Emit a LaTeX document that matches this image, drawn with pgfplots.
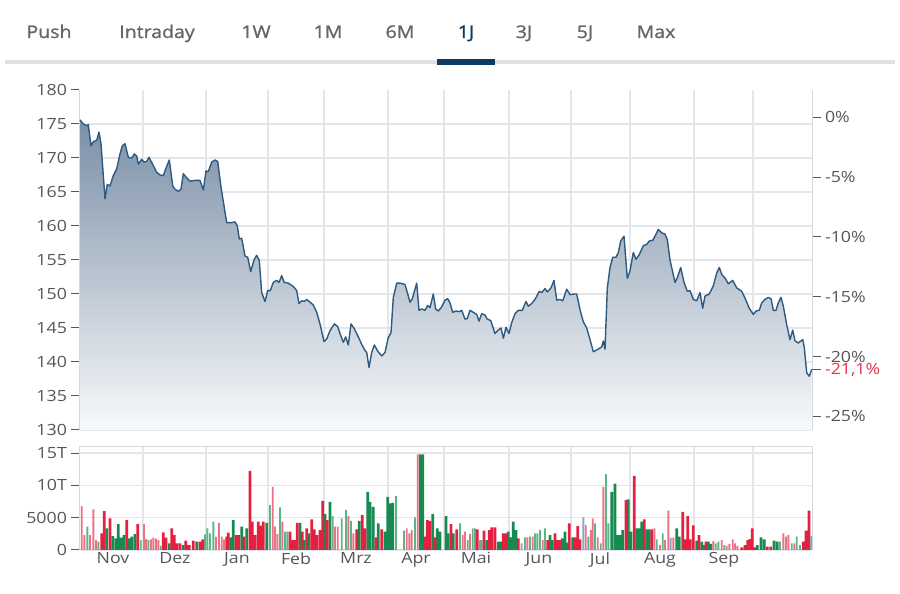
\documentclass[border=0pt]{standalone}
\usepackage{pgfplots}
\pgfplotsset{compat=1.18}
\usepackage{pgfplotstable}
\usepackage{fontspec}
\setmainfont{Open Sans}
\newfontfamily\tabfont{Open Sans}[FakeBold=1.2]
\definecolor{tabgray}{HTML}{666666}
\definecolor{tabblue}{HTML}{0C3A63}
\definecolor{tabline}{HTML}{DDE1E6}
\definecolor{gridgray}{HTML}{E3E6EA}
\definecolor{axisgray}{HTML}{D3D8DE}
\definecolor{tickgray}{HTML}{555555}
\definecolor{labgray}{HTML}{555555}
\definecolor{redlab}{HTML}{E8304A}
\definecolor{linecol}{HTML}{2D5A80}
\definecolor{filltop}{HTML}{7A8FA6}
\definecolor{fillbot}{HTML}{F8F9FB}
\definecolor{gD}{HTML}{168A50}
\definecolor{gL}{HTML}{5DB587}
\definecolor{rD}{HTML}{E3213F}
\definecolor{rL}{HTML}{EC7386}
\definecolor{bG}{HTML}{8FA6BF}
\newcommand{\tickfont}{\fontsize{15.5}{18}\selectfont}
\newcommand{\redlabel}{-21{,}1\%}

\pgfplotstableread{
x y
80 175.6
83.3 175.0
86.7 174.75
88.3 174.9
91 171.8
93.3 172.4
96.7 172.6
99 173.8
101 172.1
105 164.0
107.3 166.1
110 165.9
113.3 167.4
116.7 168.4
120 170.6
122.3 171.8
125 172.1
128.3 170.1
131.7 170.0
134.3 170.6
136.7 170.3
138.3 169.1
141.7 169.8
144 169.4
146.7 169.5
149 170.1
153.3 168.9
156.7 167.9
160 167.5
163.3 167.4
165.7 168.4
169.3 169.7
172.7 165.9
175 165.4
178.3 165.1
181 165.4
183.3 167.7
186 167.2
190 166.6
195 166.7
200 166.7
203.3 165.3
206 168.1
208.3 168.0
211.7 169.4
215 169.7
217.7 169.5
221 165.7
224.3 162.7
226.7 160.5
231.7 160.5
235 160.6
237.3 160.0
239.3 158.1
241.7 158.2
245 155.6
247.7 155.4
250.7 153.3
254 155.0
256.7 155.7
259.3 154.9
261.7 150.2
265 148.9
267.7 150.5
270.3 150.5
273.3 151.7
276.7 152.0
279 151.7
281.7 152.7
284.3 151.7
288.3 151.6
293.3 151.1
296.7 150.5
299 148.6
301.7 149.0
304.3 148.9
306.7 149.2
310 148.8
313.3 148.4
316.7 147.3
320 145.6
324 143.0
326.7 143.4
330 144.6
334.3 145.6
337.7 145.2
340.7 143.9
343.3 142.9
345.7 143.7
348.3 142.5
351 145.6
354.3 144.9
358.3 143.7
361.7 142.6
365 141.7
366.7 141.4
369 139.2
371.7 141.4
374.3 142.5
377.7 141.6
381.7 140.9
385 141.4
388.3 143.6
391 144.3
393.3 149.5
396.7 151.6
400 151.6
405 151.4
407.7 150.0
410 148.8
412.3 149.3
416.7 151.6
419 147.6
421.7 147.8
425 147.6
427.7 148.3
430 148.0
433.3 150.0
435.7 147.8
438.3 147.5
441.7 148.1
445 149.1
447.7 149.3
450 148.7
452.7 147.3
456 147.5
459.3 147.4
461.7 147.6
465 146.3
467.3 146.4
470 147.6
473.3 147.3
476.7 147.0
479 146.0
481.7 147.1
485 146.9
487.3 146.3
490.7 146.1
495 144.2
498.3 144.7
501 145.0
503.3 143.5
506 145.1
509 144.2
511.7 145.8
515 147.1
518.3 147.6
522.3 147.6
526 148.9
528.3 148.2
531.7 148.6
535 149.2
539.3 150.4
541.7 150.2
545 150.8
547.3 150.3
551 150.9
554 152.0
556.7 149.1
560 149.2
562.7 149.0
566.7 150.7
570 149.9
574 150.0
576.7 150.0
580 147.7
583.3 145.9
586.7 145.0
590 143.3
593.3 141.5
598.3 141.9
601.7 142.2
603.3 143.1
605 141.9
607.3 150.9
610 153.9
612.7 155.4
616 155.4
618.3 156.1
620.7 157.8
624 158.5
627.3 152.3
630 153.4
633.3 156.1
636 155.1
639.3 155.8
643.3 157.1
646.7 157.3
649.3 157.8
652.7 157.9
655 158.5
658.3 159.5
661.7 159.0
665 158.8
667.3 158.0
670 155.0
675 151.7
677.3 152.4
680.7 153.9
684 151.7
687.3 150.4
690 150.5
693.3 149.2
696.7 149.0
700 150.2
702.7 147.9
705 149.7
709.3 150.0
713.3 151.2
716.7 153.1
719.3 153.9
721.7 152.9
725.7 152.2
728.3 151.5
732.7 152.0
736.7 150.9
741.7 150.4
745 149.4
749.3 147.9
753.3 147.0
756 147.5
759.3 147.6
761.7 148.7
765 149.2
768.3 149.5
771 149.3
773.3 147.6
776 147.6
778.3 148.7
781 149.5
783.3 148.2
786.7 145.5
790 143.3
792.7 144.7
795 143.1
798.3 142.8
802.7 143.3
804.3 142.1
806.7 138.4
809.3 137.9
811.7 138.9
}\price

\pgfplotstableread{
x v
101.7 2570
104.3 6000
110 4880
126.7 4630
137.7 4000
163.3 2720
166 1900
171.7 3340
174.3 2310
176.7 1030
180 1030
185.7 1440
189.3 770
193.3 1440
200 1290
202.7 1640
226.7 2060
228.3 2670
236 2310
238.7 2310
244 2060
250 12230
252.3 4370
255 2310
258.3 4370
261 3750
263.3 4370
290 2830
292.7 1540
295 1540
297.3 4200
302.3 2830
306.7 3340
311.7 4730
314.3 3190
316.7 2310
320 3080
322.7 7610
327.3 4630
356.7 3190
362.3 5400
365 3340
376 1950
381.7 3190
425 2060
427.3 4630
430 4520
435 1950
451 4000
456.7 3190
477.3 3190
484 2980
489.3 3080
491.7 3500
495 3500
503.3 2570
505.7 2570
518.3 1800
547.7 1540
555 2570
557.3 1540
560 1540
569.3 4110
575 1950
577.7 3700
580 1640
626 7710
634.3 11460
644.3 4730
651.7 3190
682.7 5910
685 1640
687.7 5240
690 1640
693.3 3800
699 2310
706 1290
741.7 410
745 770
747.7 1540
750 1700
752.3 3340
755 410
767.3 510
770.7 510
803.3 1290
806 2980
809 6070
}\redD

\pgfplotstableread{
x v
81.7 6790
84.3 2300
90 2300
93.3 6300
96 1540
144 4000
146 1700
151 1640
153.3 1900
156 1750
158.3 1540
216 2060
219 4200
221.7 2060
224 1640
272.7 9770
275 3600
277.3 2470
282.3 4370
335 3600
337.7 3600
348.3 5240
353.3 2570
406.7 3340
409.3 2570
411.7 3080
417.7 14800
462.7 2310
465 2830
470 2470
527.3 1950
532.7 2060
542.7 1540
585.7 3860
590.7 3080
592.7 4880
597.7 1950
603.3 9770
654.3 3340
660 770
665 1540
668.3 6070
673.3 1900
713.3 1390
721.7 1540
726.7 620
729.3 930
732.7 1640
735 1030
737.3 620
783.3 2570
786 2060
788.3 2310
794.3 1030
}\redL

\pgfplotstableread{
x v
106.7 3340
112.7 2160
116 1800
118.3 4000
121 1900
124 2300
129.3 1800
131.7 2060
135 2470
169.3 1030
183.3 770
187.7 770
196.7 1290
230.7 1950
233.3 4630
241.7 3600
246.7 3340
266.7 4200
300 4200
304.3 1540
309 2570
325 5550
330 7450
359.3 4520
367.7 9000
370 7450
373.3 6680
378.3 4110
385 2830
387.7 8220
390 7200
392.7 7300
420.3 14800
422.6 14800
432.7 5550
437.3 3340
440 2830
446 5240
448.3 2570
453.3 2570
486.7 1540
498.3 1290
500.7 1290
508.3 2830
511 1950
513.3 4370
516 3080
550 2310
552.3 1540
562.3 1800
565 2830
567.3 1130
572.7 1950
611.7 9000
615 10280
617.7 2310
620 2310
622.7 3080
628.3 7810
631 2830
636.7 3340
639.3 3340
641.7 4370
646.7 3190
649.3 3190
676.7 3340
679.3 2060
696.7 1440
701.7 1290
704 770
708.3 1290
711 930
757.3 770
761 1950
764.3 1640
774 1440
777.3 1290
}\greenD

\pgfplotstableread{
x v
87.3 3600
98.3 1290
140.7 1540
148.3 1540
160.7 620
205 2420
207.3 3340
210 2570
213.3 4370
270 6940
280 6580
285 2830
287.3 2830
332.7 5240
341.7 4880
346 6170
351 4520
396 8330
404 2980
415 5040
460 4110
467.7 1540
472.7 3340
475 3340
480 1540
481.7 1540
525 1950
530 2060
535 2570
537.3 2570
540 3080
545 3340
588.3 2060
595 4110
600.7 1030
606 11720
608.3 4110
656.7 1640
662.7 2570
715.7 1030
718.3 1290
724.3 770
780 1290
791.7 1030
796.7 2060
800 770
}\greenL

\pgfplotstableread{
x v
521.7 1030
583.3 5040
670.7 1900
811 2160
}\blueG

\begin{document}
\begin{tikzpicture}[x=1bp,y=1bp]
\useasboundingbox (0,0) rectangle (900,594);
% tabs
\begin{scope}[every node/.style={font=\tabfont\fontsize{17.5}{20}\selectfont, text=tabgray, xscale=1.12, anchor=base}]
\node at (49,556) {Push};
\node at (157,556) {Intraday};
\node at (256,556) {1W};
\node at (328,556) {1M};
\node at (400,556) {6M};
\node[text=tabblue] at (466,556) {1J};
\node at (524,556) {3J};
\node at (585,556) {5J};
\node at (656,556) {Max};
\end{scope}
\fill[tabline] (5,530) rectangle (895,534);
\fill[tabblue] (437,529) rectangle (495,535);

% price axis
\begin{axis}[
  at={(79bp,164bp)}, anchor=south west,
  width=733bp, height=340bp, scale only axis,
  xmin=79, xmax=812, ymin=130, ymax=180,
  axis x line*=bottom, axis y line*=left,
  axis line style={-, draw=axisgray, line width=1bp},
  xtick={143,206,268,324,388,444,509,571,630,694,753},
  xticklabels={},
  ytick={130,135,...,175},
  extra y ticks={180},
  extra y tick style={grid=none},
  xmajorgrids, ymajorgrids,
  grid style={draw=gridgray, line width=1.2bp},
  tick align=outside, major tick length=8bp,
  x tick style={draw=none},
  y tick style={draw=tickgray, line width=1bp},
  yticklabel style={font=\tickfont, text=labgray, xscale=1.15},
  /pgf/number format/assume math mode=true,
]
\addplot[draw=none, top color=filltop, bottom color=fillbot] table[x=x,y=y] {\price}
  -- (axis cs:811.7,130) -- (axis cs:80,130) -- cycle;
\addplot[draw=linecol, line width=1.4bp, no marks, line join=round] table[x=x,y=y] {\price};
\end{axis}

% percent axis
\begin{axis}[
  at={(79bp,164bp)}, anchor=south west,
  width=733bp, height=340bp, scale only axis,
  xmin=79, xmax=812, ymin=-26.136, ymax=2.273,
  axis y line*=right, axis x line=none,
  axis line style={-, draw=axisgray, line width=1bp},
  ytick={0,-5,-10,-15,-20,-25},
  yticklabels={0\%,-5\%,-10\%,-15\%,-20\%,-25\%},
  extra y ticks={-21.1},
  extra y tick labels={\redlabel},
  extra y tick style={yticklabel style={text=redlab}},
  tick align=outside, major tick length=9bp,
  y tick style={draw=tickgray, line width=1bp},
  yticklabel style={font=\tickfont, text=labgray, xscale=1.15, anchor=west},
]
\end{axis}

% volume axis
\begin{axis}[
  at={(79bp,44bp)}, anchor=south west,
  width=733bp, height=103bp, scale only axis,
  xmin=79, xmax=812, ymin=0, ymax=15930,
  axis line style={draw=axisgray, line width=1bp},
  xtick={143,206,268,324,388,444,509,571,630,694,753},
  xticklabels={},
  extra x ticks={113,175,237,296,356,416,476,539,600,660,724},
  extra x tick labels={Nov,Dez,Jan,Feb,Mrz,Apr,Mai,Jun,Jul,Aug,Sep},
  extra x tick style={grid=none, major tick length=0pt, xticklabel style={font=\tickfont, text=labgray, xscale=1.15, yshift=1bp}},
  ytick={0,5000,10000,15000},
  yticklabels={0,5000,10T,15T},
  scaled y ticks=false,
  xmajorgrids, ymajorgrids,
  grid style={draw=gridgray, line width=1.2bp},
  tick pos=left, tick align=outside, major tick length=8bp,
  x tick style={draw=none},
  y tick style={draw=tickgray, line width=1bp},
  yticklabel style={font=\tickfont, text=labgray, xscale=1.15},
  /pgf/number format/assume math mode=true,
]
\addplot[ybar, bar width=2.8, bar shift=0pt, fill=gD, draw=none] table[x=x,y=v] {\greenD};
\addplot[ybar, bar width=1.9, bar shift=0pt, fill=gL, draw=none] table[x=x,y=v] {\greenL};
\addplot[ybar, bar width=2.8, bar shift=0pt, fill=rD, draw=none] table[x=x,y=v] {\redD};
\addplot[ybar, bar width=1.9, bar shift=0pt, fill=rL, draw=none] table[x=x,y=v] {\redL};
\addplot[ybar, bar width=2.0, bar shift=0pt, fill=bG, draw=none] table[x=x,y=v] {\blueG};
\end{axis}
\end{tikzpicture}
\end{document}
